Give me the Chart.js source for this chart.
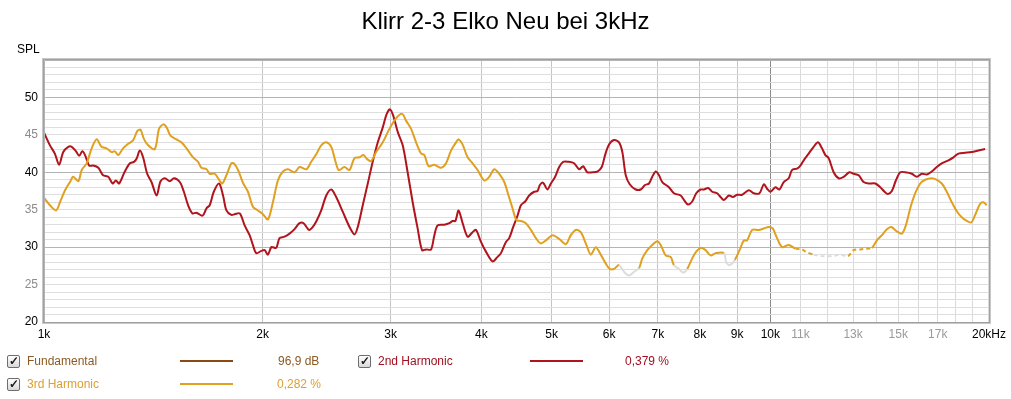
<!DOCTYPE html>
<html>
<head>
<meta charset="utf-8">
<script src="https://cdn.jsdelivr.net/npm/chart.js@4.4.0/dist/chart.umd.min.js"></script>
<style>
  body { margin: 0; background: #fff; font-family: "Liberation Sans", Arial, sans-serif; }
  #wrap { position: relative; width: 1011px; height: 399px; }
  .lg { position: absolute; font-size: 12px; line-height: 14px; white-space: nowrap; }
  .cb { position: absolute; width: 11px; height: 11px; border: 1px solid #6e6e6e; border-radius: 2px;
        background: linear-gradient(#ffffff, #d8d8d8); }
  .cb::after { content: '\2713'; position: absolute; left: 1px; top: -2px; font-size: 12px; font-weight: bold; color: #1a1a1a; }
  .ln { position: absolute; height: 2px; width: 53px; }
</style>
</head>
<body>
<div id="wrap">
  <canvas id="chart" width="1011" height="399"></canvas>

  <span class="cb" style="left:7px; top:355px"></span>
  <span class="lg" style="left:27px; top:354px; color:#8b5a24">Fundamental</span>
  <span class="ln" style="left:180px; top:360px; background:#8b4a14"></span>
  <span class="lg" style="left:278px; top:354px; color:#8b5a24">96,9 dB</span>

  <span class="cb" style="left:358px; top:355px"></span>
  <span class="lg" style="left:378px; top:354px; color:#a01020">2nd Harmonic</span>
  <span class="ln" style="left:530px; top:360px; background:#b0141c"></span>
  <span class="lg" style="left:625px; top:354px; color:#a01020">0,379 %</span>

  <span class="cb" style="left:7px; top:378px"></span>
  <span class="lg" style="left:27px; top:377px; color:#dba030">3rd Harmonic</span>
  <span class="ln" style="left:180px; top:383px; background:#e0a020"></span>
  <span class="lg" style="left:277px; top:377px; color:#dba030">0,282 %</span>
</div>

<script>
// 2nd harmonic (dark red)
const h2Freq = [1000, 1019, 1035, 1049, 1063, 1080, 1092, 1107, 1118, 1129, 1139, 1154, 1169, 1188, 1206, 1226,
  1243, 1256, 1269, 1292, 1313, 1330, 1341, 1355, 1369, 1387, 1406, 1429, 1447, 1467, 1490, 1510, 1538, 1558,
  1579, 1601, 1621, 1653, 1674, 1691, 1713, 1742, 1764, 1783, 1811, 1830, 1860, 1889, 1919, 1939, 1960, 1992,
  2013, 2034, 2056, 2088, 2110, 2144, 2178, 2213, 2248, 2277, 2316, 2345, 2375, 2408, 2447, 2486, 2525, 2579,
  2634, 2676, 2704, 2747, 2791, 2835, 2881, 2927, 2964, 2996, 3027, 3069, 3118, 3167, 3218, 3269, 3315, 3357,
  3411, 3447, 3483, 3558, 3614, 3652, 3684, 3722, 3770, 3830, 3891, 3933, 3996, 4059, 4145, 4211, 4257, 4325,
  4370, 4426, 4487, 4535, 4597, 4656, 4730, 4780, 4816, 4867, 4933, 4987, 5055, 5120, 5185, 5272, 5368, 5454,
  5524, 5599, 5689, 5779, 5860, 5922, 5997, 6093, 6190, 6255, 6323, 6403, 6526, 6630, 6721, 6807, 6878, 6953,
  7026, 7099, 7251, 7367, 7525, 7604, 7701, 7806, 7906, 8017, 8101, 8212, 8316, 8449, 8540, 8630, 8768, 8879,
  9001, 9145, 9340, 9489, 9662, 9795, 9897, 10003, 10163, 10292, 10433, 10600, 10711, 10882, 11000, 11116,
  11293, 11473, 11630, 11779, 11906, 12031, 12223, 12418, 12616, 12846, 13022, 13230, 13441, 13655, 13948,
  14170, 14364, 14515, 14700, 14887, 15096, 15337, 15661, 15910, 16164, 16422, 16684, 16950, 17220, 17589,
  17870, 18155, 18544, 18935, 19341, 19756];
const h2Level = [45.3, 43.6, 42.5, 41.0, 42.7, 43.4, 43.4, 42.8, 42.2, 42.8, 42.3, 40.9, 40.9, 40.6, 39.6, 39.4,
  38.5, 38.9, 38.5, 40.1, 41.2, 41.4, 41.8, 42.9, 42.0, 39.8, 38.7, 36.9, 38.8, 39.2, 38.8, 39.2, 38.7, 37.4,
  35.6, 34.5, 34.6, 34.2, 35.2, 35.6, 37.4, 38.5, 36.9, 34.9, 34.3, 34.4, 34.5, 32.9, 31.6, 30.3, 29.2, 29.5,
  29.6, 29.0, 30.0, 29.9, 31.2, 31.4, 31.8, 32.4, 33.2, 33.2, 32.3, 32.7, 33.6, 34.9, 36.9, 37.7, 36.7, 34.7,
  32.7, 31.7, 32.7, 35.6, 38.5, 41.4, 44.0, 46.0, 47.8, 48.4, 47.5, 45.4, 43.6, 40.0, 36.0, 32.5, 29.6, 29.7,
  29.7, 31.6, 32.9, 33.0, 33.2, 33.5, 33.5, 34.9, 33.2, 31.4, 32.0, 32.3, 30.7, 29.4, 28.1, 28.7, 29.2, 30.7,
  31.2, 32.7, 34.2, 35.6, 36.1, 36.9, 37.4, 37.5, 38.3, 38.6, 37.7, 38.5, 39.4, 40.7, 41.4, 41.4, 41.2, 40.4,
  40.8, 40.0, 40.0, 40.1, 40.7, 42.3, 43.7, 44.3, 44.0, 42.7, 39.6, 38.4, 37.7, 37.7, 38.3, 38.5, 39.4, 40.1,
  39.6, 38.7, 38.0, 37.2, 36.9, 36.3, 35.7, 36.1, 37.2, 37.7, 37.7, 37.9, 37.4, 37.2, 36.7, 36.3, 36.9, 36.7,
  37.0, 37.0, 37.6, 37.2, 37.2, 38.4, 37.8, 37.4, 38.0, 37.7, 38.7, 39.2, 40.3, 40.5, 40.9, 41.6,
  42.5, 43.4, 44.0, 43.2, 42.3, 41.9, 40.0, 39.2, 39.4, 40.0, 39.8, 39.6, 38.7, 38.5, 38.5,
  38.0, 37.4, 37.1, 37.5, 38.9, 40.0, 40.0, 39.8, 39.4, 39.8, 39.7, 40.1, 40.7, 41.2, 41.6,
  42.0, 42.5, 42.6, 42.7, 42.9, 43.1];

// 3rd harmonic (orange)
const h3Freq = [1000, 1019, 1039, 1052, 1069, 1086, 1097, 1115, 1127, 1145, 1163, 1182, 1200, 1219, 1239, 1252,
  1265, 1285, 1306, 1327, 1344, 1358, 1372, 1391, 1421, 1440, 1459, 1475, 1493, 1522, 1546, 1571, 1604, 1630,
  1647, 1674, 1691, 1718, 1745, 1760, 1783, 1811, 1825, 1850, 1879, 1909, 1939, 1970, 2002, 2034, 2066, 2099,
  2133, 2167, 2213, 2248, 2297, 2333, 2370, 2408, 2447, 2486, 2520, 2546, 2592, 2634, 2676, 2718, 2753, 2782,
  2821, 2866, 2927, 2989, 3053, 3112, 3151, 3202, 3253, 3305, 3339, 3385, 3447, 3521, 3577, 3634, 3692, 3722,
  3770, 3830, 3891, 3953, 4038, 4102, 4168, 4234, 4302, 4361, 4416, 4472, 4535, 4607, 4681, 4756, 4831, 4909,
  5012, 5120, 5229, 5313, 5397, 5483, 5571, 5660, 5750, 5842, 5935, 6011, 6093, 6190, 6289, 6389, 6491, 6595,
  6664, 6770, 6878, 6988, 7063, 7176, 7291, 7367, 7485, 7580, 7684, 7806, 7906, 8017, 8144, 8274, 8406, 8630,
  8693, 8787, 8936, 9070, 9194, 9290, 9439, 9641, 9795, 9951, 10077, 10215, 10378, 10600, 10828, 11056, 11176,
  11473, 11779, 12157, 12485, 12789, 13022, 13301, 13582, 13799, 14019, 14243, 14469, 14672, 14934, 15173,
  15366, 15582, 15830, 16083, 16339, 16684, 16950, 17220, 17495, 17774, 18058, 18346, 18639, 18900, 19141,
  19446, 19650, 19856];
const h3Level = [36.6, 35.6, 34.9, 36.0, 37.6, 38.7, 39.4, 38.8, 40.3, 41.2, 43.2, 44.4, 43.4, 43.2, 42.7, 42.8,
  42.3, 43.2, 43.8, 44.3, 45.5, 45.7, 44.5, 43.6, 43.1, 45.8, 46.4, 46.0, 44.9, 44.4, 44.0, 43.2, 42.0, 41.4,
  40.6, 40.4, 39.8, 39.8, 38.9, 38.5, 39.6, 41.2, 41.2, 40.3, 38.6, 37.4, 35.4, 34.9, 34.4, 33.7, 36.0, 38.9,
  40.1, 40.4, 40.0, 40.7, 40.4, 41.4, 42.4, 43.6, 44.0, 43.4, 41.4, 40.3, 40.7, 40.3, 41.9, 42.0, 42.3, 41.8,
  41.5, 42.7, 44.0, 45.8, 47.2, 47.8, 46.9, 45.8, 44.0, 42.5, 42.3, 40.8, 41.0, 40.6, 41.2, 42.9, 44.0, 44.4,
  43.7, 42.0, 41.2, 40.3, 38.9, 39.4, 40.4, 39.8, 38.7, 36.9, 35.2, 33.6, 33.5, 33.2, 32.3, 31.2, 30.5, 30.9,
  31.6, 31.1, 30.4, 31.6, 32.3, 32.0, 30.5, 29.0, 30.0, 29.0, 27.8, 27.1, 27.1, 27.6, 26.7, 26.2, 26.7, 27.2,
  28.5, 29.6, 30.3, 30.8, 30.3, 28.9, 28.7, 27.6, 27.1, 26.6, 27.1, 28.5, 29.4, 29.9, 29.6, 28.9, 29.2, 29.2,
  28.0, 27.6, 28.3, 29.6, 30.9, 30.9, 32.3, 32.3, 32.5, 32.7, 32.5, 31.2, 30.0, 30.3, 29.8, 29.7, 29.4,
  29.0, 28.8, 28.8, 29.0, 28.8, 29.6, 29.7, 29.8, 29.9, 30.9, 31.6, 32.4, 32.7, 32.1, 31.8,
  32.9, 35.2, 37.2, 38.5, 39.0, 39.2, 39.0, 38.5, 37.4, 36.0, 34.8, 34.0, 33.5, 33.3, 34.3,
  35.8, 36.0, 35.6];

// stretches of the 3rd harmonic drawn faded / dashed (Hz)
const h3Faded = [[6150, 6620], [7420, 7660], [8660, 8960], [11550, 12900]];
const h3Dashed = [[10880, 13900]];

const xTicks = [1000, 2000, 3000, 4000, 5000, 6000, 7000, 8000, 9000, 10000,
  11000, 12000, 13000, 14000, 15000, 16000, 17000, 18000, 19000, 20000];
const xTickLabels = ['1k', '2k', '3k', '4k', '5k', '6k', '7k', '8k', '9k', '10k',
  '11k', '', '13k', '', '15k', '', '17k', '', '', '20kHz'];

const FONT = '"Liberation Sans", Arial, sans-serif';

const toPoints = (fs, vs) => fs.map((f, i) => ({ x: f, y: vs[i] }));
const inSpans = (spans, f) => spans.some(s => f >= s[0] && f <= s[1]);
const midF = ctx => (ctx.p0.parsed.x + ctx.p1.parsed.x) / 2;

const framePlugin = {
  id: 'frame',
  afterDraw(chart) {
    const { ctx, chartArea: a } = chart;
    ctx.save();
    ctx.strokeStyle = '#a0a0a0';
    ctx.lineWidth = 1;
    ctx.strokeRect(a.left - 0.5, a.top - 0.5, a.right - a.left + 1, a.bottom - a.top + 1);
    ctx.strokeStyle = '#c8c8c8';
    ctx.strokeRect(a.left - 1.5, a.top - 1.5, a.right - a.left + 3, a.bottom - a.top + 3);
    ctx.strokeStyle = '#b4b4b4';
    ctx.beginPath();
    ctx.moveTo(a.left + 0.5, a.bottom); ctx.lineTo(a.left + 0.5, a.top + 0.5); ctx.lineTo(a.right, a.top + 0.5);
    ctx.stroke();
    ctx.fillStyle = '#000';
    ctx.font = '12px ' + FONT;
    ctx.textBaseline = 'middle';
    ctx.fillText('SPL', 17, 50);
    ctx.restore();
  }
};

new Chart(document.getElementById('chart'), {
  type: 'line',
  data: {
    datasets: [
      {
        label: '3rd Harmonic',
        data: toPoints(h3Freq, h3Level),
        borderColor: '#e0a020',
        borderWidth: 2,
        pointRadius: 0,
        tension: 0.3,
        segment: {
          borderColor: ctx => inSpans(h3Faded, midF(ctx)) ? '#dcdcdc' : undefined,
          borderDash: ctx => inSpans(h3Dashed, midF(ctx)) ? [4, 3] : undefined
        }
      },
      {
        label: '2nd Harmonic',
        data: toPoints(h2Freq, h2Level),
        borderColor: '#b0141c',
        borderWidth: 2,
        pointRadius: 0,
        tension: 0.3
      }
    ]
  },
  options: {
    responsive: false,
    animation: false,
    devicePixelRatio: 1,
    layout: { padding: { left: 21, right: 21, top: 0, bottom: 57 } },
    plugins: {
      legend: { display: false },
      tooltip: { enabled: false },
      title: {
        display: true,
        text: 'Klirr 2-3 Elko Neu bei 3kHz',
        color: '#000',
        font: { family: FONT, size: 24, weight: 'normal', lineHeight: 1.2 },
        padding: { top: 8, bottom: 23.2 }
      }
    },
    scales: {
      x: {
        type: 'logarithmic',
        min: 1000,
        max: 20000,
        afterBuildTicks: scale => { scale.ticks = xTicks.map(v => ({ value: v })) },
        afterFit: scale => { scale.height = 20 },
        border: { display: false },
        grid: {
          drawTicks: false,
          color: ctx => {
            const v = ctx.tick && ctx.tick.value;
            if (v === 10000) return '#8c8c8c';
            return v > 10000 ? '#dadada' : '#c4c4c4';
          }
        },
        ticks: {
          autoSkip: false,
          maxRotation: 0,
          padding: 5,
          font: { family: FONT, size: 12 },
          color: ctx => {
            const v = ctx.tick && ctx.tick.value;
            return (v > 10000 && v < 20000) ? '#9a9a9a' : '#000';
          },
          callback: value => {
            const i = xTicks.indexOf(value);
            return i < 0 ? '' : xTickLabels[i];
          }
        }
      },
      y: {
        min: 20,
        max: 55,
        afterFit: scale => { scale.width = 23 },
        border: { display: false },
        grid: {
          drawTicks: false,
          color: ctx => (ctx.tick && ctx.tick.value % 10 === 0) ? '#b4b4b4' : '#dedede'
        },
        ticks: {
          stepSize: 1,
          autoSkip: false,
          padding: 6,
          font: { family: FONT, size: 12 },
          color: ctx => (ctx.tick && ctx.tick.value % 10 === 0) ? '#000' : '#8c8c8c',
          callback: value => (value % 5 === 0 && value < 55) ? value : ''
        }
      }
    }
  },
  plugins: [framePlugin]
});
</script>
</body>
</html>
